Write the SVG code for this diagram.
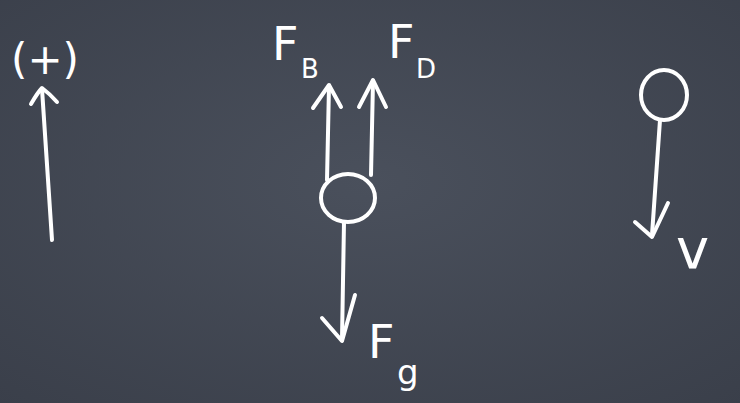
<svg xmlns="http://www.w3.org/2000/svg" width="740" height="403" viewBox="0 0 740 403">
<defs>
<radialGradient id="bg" cx="0.5" cy="0.45" r="0.75">
<stop offset="0" stop-color="#4a505c"/>
<stop offset="1" stop-color="#3a3f4a"/>
</radialGradient>
</defs>
<style>
.s{fill:none;stroke:#ffffff;stroke-width:4;stroke-linecap:round;stroke-linejoin:round}
.t{fill:#ffffff;font-family:"DejaVu Sans",sans-serif}
</style>
<rect width="740" height="403" fill="url(#bg)"/>
<g id="positive-direction">
<path class="s" d="M52 240 L42 89"/>
<path class="s" d="M31 104 Q38 92 42 88 Q50 94 57 102"/>
<text class="t" x="45" y="74" font-size="42" text-anchor="middle">(+)</text>
</g>
<g id="ball-forces">
<ellipse class="s" cx="348" cy="198" rx="27" ry="24"/>
<path class="s" d="M327 180 L329 86"/>
<path class="s" d="M313 108 L329 85 L341 107"/>
<path class="s" d="M371 175 L373 81"/>
<path class="s" d="M359 107 L373 80 L386 107"/>
<path class="s" d="M344 222 L342 340"/>
<path class="s" d="M322 318 L342 341 L355 295"/>
<text class="t" x="272" y="60" font-size="46">F</text>
<text class="t" x="301" y="78" font-size="26">B</text>
<text class="t" x="388" y="58" font-size="46">F</text>
<text class="t" x="416" y="78" font-size="26">D</text>
<text class="t" x="368" y="358" font-size="46">F</text>
<text class="t" x="397" y="384" font-size="34">g</text>
</g>
<g id="ball-velocity">
<ellipse class="s" cx="664" cy="95" rx="23" ry="25"/>
<path class="s" d="M660 120 L652 235"/>
<path class="s" d="M635 222 L652 237 L668 203"/>
<text class="t" x="676" y="268" font-size="56">v</text>
</g>
</svg>
